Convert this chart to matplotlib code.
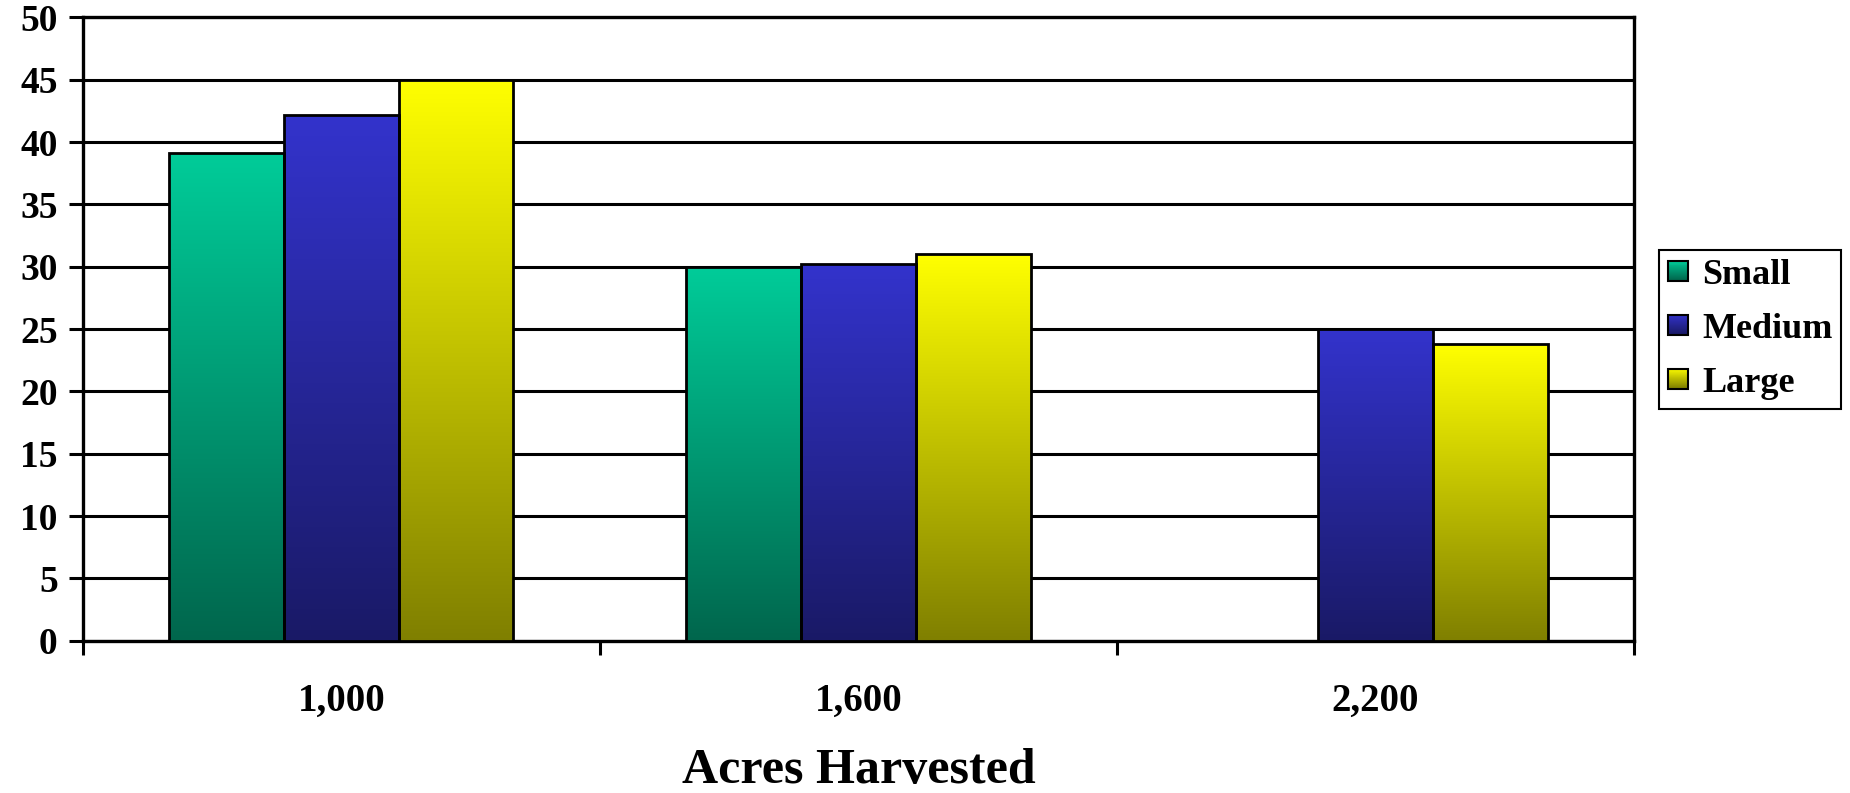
import numpy as np
import matplotlib
matplotlib.use("Agg")
import matplotlib.pyplot as plt
from matplotlib.patches import Rectangle
from matplotlib.legend_handler import HandlerBase
from matplotlib.colors import to_rgb

# Data
categories = ["1,000", "1,600", "2,200"]
series_names = ["Small", "Medium", "Large"]
small = [39.1, 30.0, np.nan]
medium = [42.2, 30.2, 25.0]
large = [45.0, 31.0, 23.8]
y_ticks = [0, 5, 10, 15, 20, 25, 30, 35, 40, 45, 50]

# Top (light) colour of each series; bars fade to half brightness at the base
top_colors = ["#00CC99", "#3333CC", "#FFFF00"]

plt.rcParams["font.family"] = ["Liberation Serif", "DejaVu Serif"]
plt.rcParams["font.weight"] = "bold"

fig = plt.figure(figsize=(18.5, 7.93), dpi=100)
ax = fig.add_axes([0.0447, 0.192, 0.8386, 0.786])

n_cat = len(categories)
x = np.arange(n_cat)
width = 0.222
offsets = [-width, 0.0, width]
all_series = [small, medium, large]


def gradient_image(color, n=256):
    c = np.array(to_rgb(color))
    t = np.linspace(0.0, 1.0, n)[:, None]  # 0 at top, 1 at bottom
    rgb = c[None, :] * (1.0 - 0.5 * t)
    return rgb[:, None, :]


for vals, off, col in zip(all_series, offsets, top_colors):
    bars = ax.bar(x + off, vals, width, facecolor="none", edgecolor="black",
                  linewidth=2.0, zorder=4)
    img = gradient_image(col)
    for b in bars:
        h = b.get_height()
        if not np.isfinite(h) or h <= 0:
            continue
        x0 = b.get_x()
        im = ax.imshow(img, extent=(x0, x0 + b.get_width(), 0, h),
                       aspect="auto", zorder=3, interpolation="bilinear")
        im.set_clip_path(b)

ax.set_xlim(-0.5, n_cat - 0.5)
ax.set_ylim(0, 50)
ax.set_yticks(y_ticks)
ax.set_yticklabels([str(v) for v in y_ticks], fontsize=27, fontweight="bold")
ax.yaxis.grid(True, color="black", linewidth=2.2, zorder=1)
ax.set_axisbelow(True)

# category labels centred, tick marks on the boundaries
ax.set_xticks(np.arange(n_cat + 1) - 0.5)
ax.set_xticklabels([])
ax.set_xticks(x, minor=True)
ax.set_xticklabels(categories, minor=True, fontsize=28, fontweight="bold")
ax.tick_params(axis="x", which="minor", length=0, pad=30)
ax.tick_params(axis="x", which="major", length=10, width=2.2, direction="out")
ax.tick_params(axis="y", length=10, width=2.2, direction="out", pad=8)

for s in ax.spines.values():
    s.set_linewidth(2.4)
    s.set_color("black")

# axis title placed in figure coordinates so it sits fully inside the canvas
ax_box = ax.get_position()
fig.text((ax_box.x0 + ax_box.x1) / 2, 0.012, "Acres Harvested",
         ha="center", va="baseline", fontsize=36, fontweight="bold")


class GradientHandler(HandlerBase):
    def __init__(self, color):
        super().__init__()
        self.color = color

    def create_artists(self, legend, orig_handle, xdescent, ydescent,
                       width, height, fontsize, trans):
        size = min(width, height)
        x0 = -xdescent
        y0 = -ydescent + (height - size) / 2
        arts = []
        n = 20
        c = np.array(to_rgb(self.color))
        for i in range(n):
            t = (i + 0.5) / n
            rgb = c * (1.0 - 0.5 * t)
            arts.append(Rectangle((x0, y0 + size * (1 - (i + 1) / n)), size,
                                  size / n + 0.3, facecolor=rgb,
                                  edgecolor="none", transform=trans))
        arts.append(Rectangle((x0, y0), size, size, facecolor="none",
                              edgecolor="black", linewidth=1.5,
                              transform=trans))
        return arts


handles = [Rectangle((0, 0), 1, 1) for _ in series_names]
leg = fig.legend(handles, series_names,
                 handler_map={h: GradientHandler(c) for h, c in zip(handles, top_colors)},
                 loc="center", bbox_to_anchor=(0.946, 0.585),
                 bbox_transform=fig.transFigure,
                 prop={"weight": "bold", "size": 26}, frameon=True,
                 fancybox=False, edgecolor="black", framealpha=1,
                 handlelength=0.55, handleheight=0.55, handletextpad=0.4,
                 labelspacing=0.58, borderpad=0.25, borderaxespad=0)
leg.get_frame().set_linewidth(1.5)

fig.savefig("out.png", dpi=100, facecolor="white")
